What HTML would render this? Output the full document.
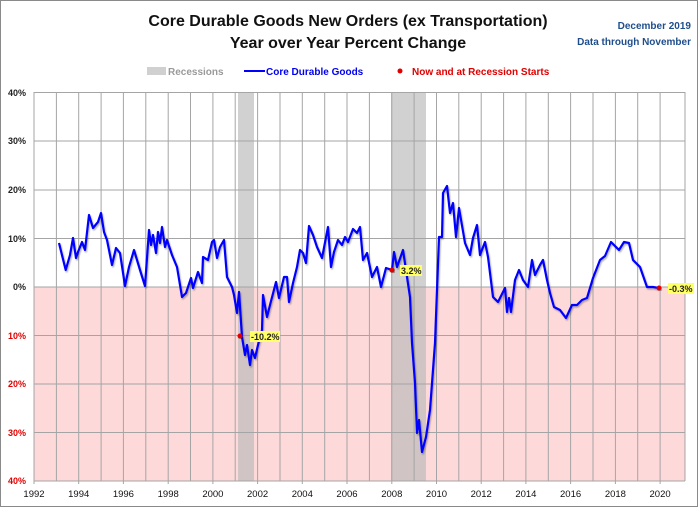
<!DOCTYPE html>
<html><head><meta charset="utf-8"><style>
html,body{margin:0;padding:0;background:#fff}
svg{display:block;font-family:"Liberation Sans",sans-serif}
</style></head><body>
<svg width="698" height="507" viewBox="0 0 698 507" xmlns="http://www.w3.org/2000/svg">
<defs><filter id="sh" x="-5%" y="-5%" width="110%" height="110%"><feDropShadow dx="1" dy="1.5" stdDeviation="0.8" flood-color="#000" flood-opacity="0.3"/></filter></defs>
<rect x="0.5" y="0.5" width="697" height="506" fill="#fff" stroke="#8a8a8a"/>
<text x="348" y="26" text-anchor="middle" font-size="16" font-weight="bold" fill="#111">Core Durable Goods New Orders (ex Transportation)</text>
<text x="348" y="48" text-anchor="middle" font-size="16" font-weight="bold" fill="#111">Year over Year Percent Change</text>
<text x="691" y="29" text-anchor="end" font-size="10" font-weight="bold" fill="#1f4e8c">December 2019</text>
<text x="691" y="45" text-anchor="end" font-size="10" font-weight="bold" fill="#1f4e8c">Data through November</text>
<rect x="147" y="67" width="19" height="8" fill="#d0d0d0"/>
<text x="168" y="75" font-size="10" font-weight="bold" fill="#9a9a9a">Recessions</text>
<line x1="244" y1="71" x2="265" y2="71" stroke="#0000ff" stroke-width="2"/>
<text x="266" y="75" font-size="10" font-weight="bold" fill="#0000ee">Core Durable Goods</text>
<circle cx="400" cy="71" r="2.5" fill="#e00000"/>
<text x="412" y="75" font-size="10" font-weight="bold" fill="#e00000">Now and at Recession Starts</text>
<rect x="34" y="287" width="651" height="194" fill="#fdd9d9"/>
<rect x="238" y="92" width="16" height="389" fill="#b8b8b8" opacity="0.65"/>
<rect x="391" y="92" width="35" height="389" fill="#b8b8b8" opacity="0.65"/>
<g stroke="#a5a5a5" stroke-width="1">
<line x1="34" y1="92.5" x2="685" y2="92.5"/><line x1="34" y1="141" x2="685" y2="141"/><line x1="34" y1="190" x2="685" y2="190"/><line x1="34" y1="238.5" x2="685" y2="238.5"/><line x1="34" y1="287" x2="685" y2="287"/><line x1="34" y1="335.5" x2="685" y2="335.5"/><line x1="34" y1="384" x2="685" y2="384"/><line x1="34" y1="432.5" x2="685" y2="432.5"/><line x1="34" y1="481" x2="685" y2="481"/>
</g>
<g stroke="#a5a5a5">
<line x1="34" y1="92" x2="34" y2="484"/><line x1="56.4" y1="92" x2="56.4" y2="481"/><line x1="78.7" y1="92" x2="78.7" y2="484"/><line x1="101.1" y1="92" x2="101.1" y2="481"/><line x1="123.4" y1="92" x2="123.4" y2="484"/><line x1="145.8" y1="92" x2="145.8" y2="481"/><line x1="168.2" y1="92" x2="168.2" y2="484"/><line x1="190.5" y1="92" x2="190.5" y2="481"/><line x1="212.9" y1="92" x2="212.9" y2="484"/><line x1="235.2" y1="92" x2="235.2" y2="481"/><line x1="257.6" y1="92" x2="257.6" y2="484"/><line x1="280" y1="92" x2="280" y2="481"/><line x1="302.3" y1="92" x2="302.3" y2="484"/><line x1="324.7" y1="92" x2="324.7" y2="481"/><line x1="347" y1="92" x2="347" y2="484"/><line x1="369.4" y1="92" x2="369.4" y2="481"/><line x1="391.8" y1="92" x2="391.8" y2="484"/><line x1="414.1" y1="92" x2="414.1" y2="481"/><line x1="436.5" y1="92" x2="436.5" y2="484"/><line x1="458.8" y1="92" x2="458.8" y2="481"/><line x1="481.2" y1="92" x2="481.2" y2="484"/><line x1="503.6" y1="92" x2="503.6" y2="481"/><line x1="525.9" y1="92" x2="525.9" y2="484"/><line x1="548.3" y1="92" x2="548.3" y2="481"/><line x1="570.6" y1="92" x2="570.6" y2="484"/><line x1="593" y1="92" x2="593" y2="481"/><line x1="615.4" y1="92" x2="615.4" y2="484"/><line x1="637.7" y1="92" x2="637.7" y2="481"/><line x1="660.1" y1="92" x2="660.1" y2="484"/><line x1="685" y1="92" x2="685" y2="481"/>
</g>
<g font-size="9" font-weight="bold" text-anchor="end">
<text x="26" y="96" fill="#222">40%</text><text x="26" y="144" fill="#222">30%</text><text x="26" y="193" fill="#222">20%</text><text x="26" y="242" fill="#222">10%</text><text x="26" y="290" fill="#222">0%</text>
<text x="26" y="339" fill="#e00000">10%</text><text x="26" y="387" fill="#e00000">20%</text><text x="26" y="436" fill="#e00000">30%</text><text x="26" y="484" fill="#e00000">40%</text>
</g>
<g font-size="9.5" text-anchor="middle" fill="#111">
<text x="34" y="497">1992</text><text x="78.7" y="497">1994</text><text x="123.4" y="497">1996</text><text x="168.2" y="497">1998</text><text x="212.9" y="497">2000</text><text x="257.6" y="497">2002</text><text x="302.3" y="497">2004</text><text x="347" y="497">2006</text><text x="391.8" y="497">2008</text><text x="436.5" y="497">2010</text><text x="481.2" y="497">2012</text><text x="525.9" y="497">2014</text><text x="570.6" y="497">2016</text><text x="615.4" y="497">2018</text><text x="660.1" y="497">2020</text>
</g>
<polyline filter="url(#sh)" fill="none" stroke="#0000ff" stroke-width="2.2" stroke-linejoin="round" points="59,243 65.7,270 70,255 73,238 76,258 78,252 82,242 85,250 89,215 93,228 98,222 101,213 104,232 107,240 112,265 116,248 120,253 125,286 129,267 134,250 140,270 145,286 149,230 151,245 153,235 156,253 158,232 160,243 162,227 165,247 167,240 172,255 177,267 182,297 186,293 191,278 193,288 198,272 202,283 203,257 208,260 212,242 214,240 217,258 220,247 224,240 227,277 232,287 234,295 237,313 239,292 242,337 245,355 247,345 250,365 252,350 255,358 258,345 262,330 263,295 267,317 270,305 276,282 279,298 284,277 287,277 289,302 293,283 297,267 300,250 303,253 306,263 309,226 313,235 317,247 322,258 328,227 331,267 334,252 338,240 342,245 345,237 348,242 353,229 357,233 360,227 363,260 367,253 372,277 377,267 381,287 386,268 392,270 394,252 397,267 403,250 407,277 410,297 412,343 415,383 417,433 419,420 422,452 426,437 430,410 435,343 439,237 442,237 443,193 447,186 450,213 453,203 456,237 459,208 465,243 470,255 473,238 477,225 480,255 485,242 488,257 493,297 498,302 505,288 507,312 509,298 511,312 515,280 519,270 523,280 528,287 532,260 535,275 540,265 543,260 547,280 550,293 554,307 560,310 566,318 572,305 577,305 582,300 587,298 593,278 600,260 605,256 611,242 615,246 619,250 624,242 629,243 633,260 640,267 647,287 653,287 659,288"/>
<circle cx="240" cy="336" r="2.5" fill="#e00000" filter="url(#sh)"/>
<circle cx="392" cy="270" r="2.5" fill="#e00000" filter="url(#sh)"/>
<circle cx="659" cy="288" r="2.5" fill="#e00000" filter="url(#sh)"/>
<g font-size="9" font-weight="bold" fill="#222">
<rect x="250" y="331" width="30" height="11" fill="#ffff66"/><text x="251" y="340">-10.2%</text>
<rect x="400" y="265" width="22" height="11" fill="#ffff66"/><text x="401" y="274">3.2%</text>
<rect x="668" y="283" width="26" height="11" fill="#ffff66"/><text x="669" y="292">-0.3%</text>
</g>
</svg>
</body></html>
